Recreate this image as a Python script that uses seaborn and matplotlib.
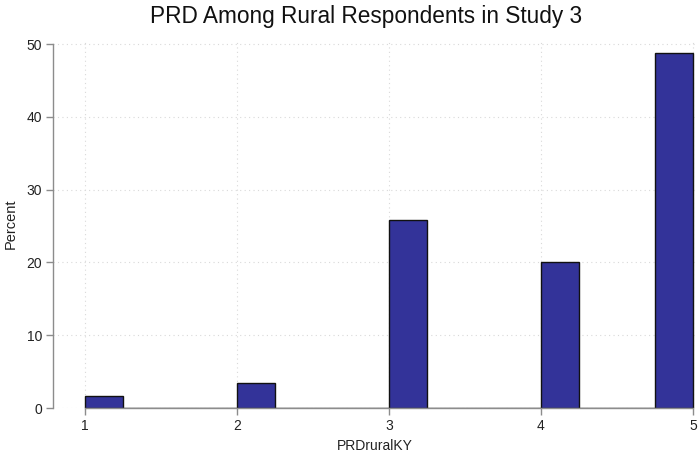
import numpy as np
import pandas as pd
import matplotlib
matplotlib.use("Agg")
import matplotlib.pyplot as plt
import seaborn as sns

# Data
categories = [1, 2, 3, 4, 5]
percents = [1.7, 3.5, 25.8, 20.0, 48.8]
x_ticks = [1, 2, 3, 4, 5]
y_ticks = [0, 10, 20, 30, 40, 50]

sns.set_style("white")
plt.rcParams['font.family'] = ['Liberation Sans', 'DejaVu Sans']

df = pd.DataFrame({"PRDruralKY": categories, "Percent": percents})

fig = plt.figure(figsize=(6.99, 4.53), dpi=100)
ax = fig.add_axes([53/699, 0.0993, (696-53)/699, 0.8115])

sns.histplot(data=df, x="PRDruralKY", weights="Percent",
             binwidth=0.25, binrange=(1, 5), color="#333399", alpha=1,
             edgecolor="#111111", linewidth=1.0, ax=ax, zorder=3)

ax.set_xlim(0.79, 5.02)
ax.set_ylim(0, 50.5)
ax.set_xticks(x_ticks)
ax.set_yticks(y_ticks)
ax.set_xticklabels([str(t) for t in x_ticks])
ax.set_yticklabels([str(t) for t in y_ticks])

for s in ["top", "right"]:
    ax.spines[s].set_visible(False)
ax.spines["left"].set_bounds(0, 50)
ax.spines["bottom"].set_bounds(1, 5)
for s in ["left", "bottom"]:
    ax.spines[s].set_color("#8c8c8c")
    ax.spines[s].set_linewidth(1.0)
    ax.spines[s].set_zorder(4)

ax.grid(True, color="#d9d9d9", linestyle=(0, (1, 3)), linewidth=0.8, zorder=0)
ax.set_axisbelow(True)

ax.tick_params(axis="both", which="major", length=5, width=1.0, color="#8c8c8c",
               labelsize=10, labelcolor="#222222", pad=3, direction="out",
               left=True, bottom=True)

ax.set_xlabel("PRDruralKY", fontsize=10, color="#222222", labelpad=4)
ax.set_ylabel("Percent", fontsize=10.5, color="#222222", labelpad=6)
fig.suptitle("PRD Among Rural Respondents in Study 3", fontsize=16.3, color="#111111",
             x=366 / 699, y=0.988, va="top")

fig.savefig("out.png", dpi=100, facecolor="white")
